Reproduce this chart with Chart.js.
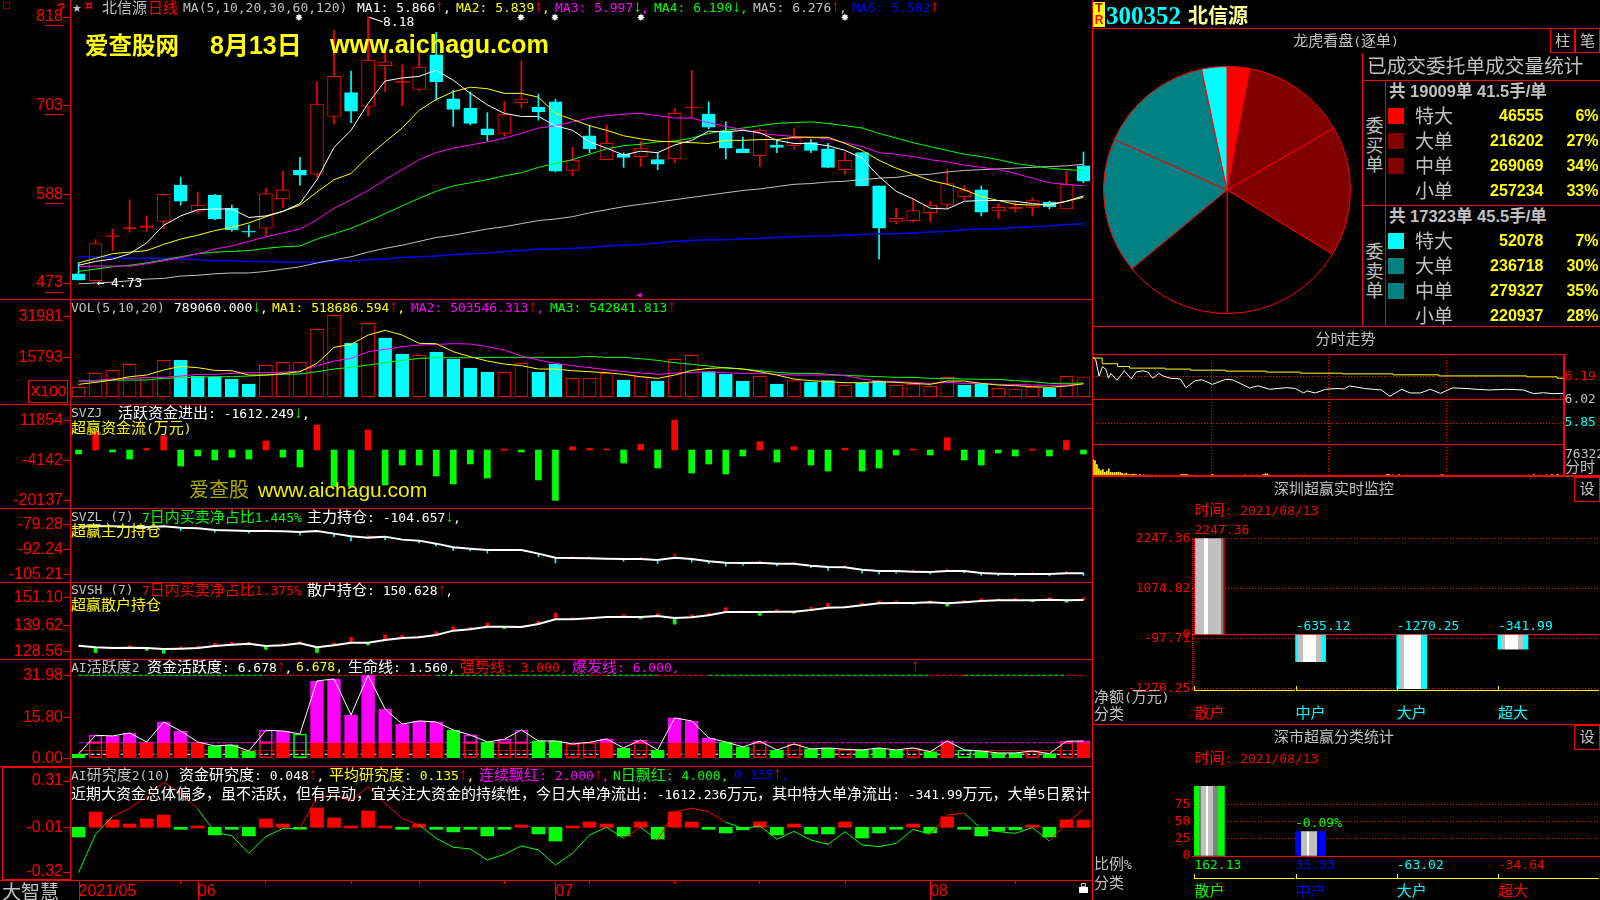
<!DOCTYPE html>
<html>
<head>
<meta charset="utf-8">
<title>300352 北信源</title>
<script src="https://cdn.jsdelivr.net/npm/chart.js@4/dist/chart.umd.min.js"></script>
<style>
html, body { margin: 0; padding: 0; width: 1600px; height: 900px; background: #000; overflow: hidden; }
canvas { position: absolute; display: block; }
.t { position: absolute; white-space: pre; font: 13px/16px "DejaVu Sans Mono", "Noto Sans CJK SC", monospace; }
.t .c { font: 15px/16px "Noto Sans CJK SC", sans-serif; }
.t .a { display: inline-block; width: 7.8px; text-align: center; font: 17px/14px "Liberation Sans", sans-serif; }
.l { position: absolute; }
</style>
</head>
<body>
<script>
// 日线数据 (60 bars)
const candleOpen = [4.85,4.76,5.33,5.43,5.45,5.53,6.00,5.66,5.87,5.70,5.40,5.44,5.82,6.19,6.14,6.89,7.20,7.02,7.55,7.33,7.24,7.69,7.12,7.00,6.73,6.67,7.07,7.01,7.08,6.19,6.64,6.33,6.40,6.37,6.33,6.34,7.00,6.92,6.70,6.47,6.38,6.52,6.51,6.55,6.47,6.20,6.42,5.99,5.53,5.54,5.64,5.75,5.85,5.94,5.67,5.69,5.71,5.78,5.69,6.25];
const candleClose = [4.77,5.24,5.34,5.45,5.47,5.88,5.79,5.74,5.56,5.42,5.39,5.89,5.94,6.13,7.05,7.41,6.96,7.62,7.60,7.35,7.53,7.34,6.98,6.80,6.65,6.92,7.11,6.95,6.18,6.32,6.47,6.54,6.36,6.48,6.27,6.93,7.01,6.75,6.48,6.42,6.71,6.49,6.61,6.45,6.23,6.32,5.99,5.44,5.57,5.67,5.74,6.02,5.93,5.65,5.71,5.71,5.80,5.72,6.01,6.05];
const candleHigh = [4.99,5.29,5.43,5.81,5.60,5.88,6.10,5.91,5.88,5.74,5.48,5.96,6.18,6.36,7.34,8.01,7.48,8.18,7.75,7.56,7.75,7.98,7.23,7.21,6.94,7.08,7.61,7.18,7.11,6.49,6.77,6.78,6.42,6.57,6.42,6.99,7.49,7.08,6.82,6.62,6.73,6.58,6.74,6.59,6.54,6.42,6.42,5.99,5.70,5.82,5.79,6.20,5.99,5.99,5.76,5.79,5.83,5.79,6.18,6.43];
const candleLow = [4.77,4.76,5.15,5.39,5.40,5.43,5.74,5.63,5.55,5.40,5.33,5.34,5.71,6.00,6.11,6.79,6.81,6.90,7.21,7.03,7.22,7.10,6.76,6.78,6.57,6.64,7.00,6.84,6.17,6.12,6.42,6.33,6.23,6.24,6.20,6.29,6.87,6.73,6.34,6.42,6.24,6.42,6.47,6.42,6.23,6.14,5.99,5.04,5.50,5.52,5.52,5.69,5.81,5.60,5.57,5.65,5.61,5.69,5.69,6.03];
const ma5 = [4.96,5.01,5.04,5.11,5.25,5.48,5.60,5.68,5.69,5.69,5.58,5.60,5.66,5.76,6.07,6.49,6.71,7.06,7.35,7.39,7.41,7.49,7.36,7.19,7.04,6.93,6.89,6.89,6.77,6.71,6.56,6.48,6.39,6.44,6.42,6.52,6.58,6.70,6.69,6.71,6.68,6.58,6.54,6.54,6.51,6.45,6.35,6.11,5.92,5.82,5.70,5.69,5.79,5.80,5.80,5.79,5.76,5.74,5.79,5.86];
const ma10 = [4.99,5.05,5.11,5.13,5.15,5.23,5.30,5.35,5.41,5.45,5.51,5.59,5.66,5.74,5.91,6.07,6.15,6.37,6.56,6.74,6.97,7.11,7.21,7.27,7.25,7.19,7.19,7.14,6.93,6.85,6.77,6.71,6.64,6.60,6.57,6.56,6.55,6.54,6.58,6.58,6.59,6.59,6.62,6.62,6.62,6.54,6.45,6.32,6.22,6.14,6.06,6.01,5.94,5.85,5.80,5.75,5.74,5.75,5.79,5.84];
const ma20 = [4.94,4.95,4.95,4.95,4.98,5.02,5.06,5.11,5.17,5.21,5.27,5.33,5.38,5.43,5.55,5.70,5.81,5.93,6.07,6.20,6.33,6.42,6.48,6.52,6.56,6.61,6.67,6.74,6.77,6.82,6.87,6.90,6.92,6.93,6.90,6.87,6.87,6.81,6.76,6.72,6.67,6.65,6.63,6.62,6.60,6.55,6.50,6.42,6.40,6.37,6.33,6.30,6.26,6.23,6.20,6.15,6.09,6.03,6.01,5.99];
const ma30 = [4.88,4.91,4.94,4.96,4.99,5.03,5.07,5.11,5.13,5.14,5.15,5.18,5.20,5.21,5.30,5.37,5.44,5.53,5.63,5.73,5.83,5.92,5.99,6.03,6.07,6.12,6.16,6.23,6.28,6.33,6.40,6.47,6.51,6.53,6.56,6.57,6.61,6.67,6.71,6.74,6.77,6.80,6.81,6.82,6.80,6.77,6.74,6.67,6.61,6.55,6.50,6.45,6.40,6.37,6.33,6.28,6.25,6.22,6.20,6.19];
const ma60 = [4.72,4.73,4.74,4.76,4.78,4.79,4.82,4.83,4.85,4.86,4.86,4.88,4.91,4.94,4.99,5.03,5.07,5.13,5.18,5.22,5.27,5.32,5.35,5.39,5.43,5.46,5.50,5.54,5.56,5.59,5.64,5.68,5.72,5.75,5.78,5.81,5.84,5.87,5.90,5.93,5.95,5.98,6.01,6.02,6.04,6.05,6.07,6.09,6.10,6.13,6.14,6.17,6.19,6.20,6.21,6.22,6.23,6.24,6.25,6.27];
const ma120 = [5.07,5.07,5.06,5.05,5.05,5.05,5.04,5.03,5.02,5.02,5.01,5.01,5.00,5.00,5.00,5.02,5.02,5.03,5.04,5.06,5.07,5.08,5.10,5.11,5.12,5.14,5.15,5.17,5.17,5.18,5.19,5.21,5.22,5.23,5.25,5.27,5.28,5.29,5.29,5.30,5.31,5.32,5.33,5.34,5.34,5.35,5.36,5.37,5.37,5.38,5.39,5.40,5.42,5.43,5.43,5.45,5.46,5.47,5.49,5.50];
const priceTicks = [8.18, 7.03, 5.88, 4.73];

const volume = [3724,9310,10507,12901,7714,14497,14497,8246,7714,7049,5054,12502,13699,13699,26866,32452,21413,29260,23408,17024,16492,17822,15029,11438,9842,9709,13300,9842,13034,7315,7315,9310,6650,7980,6251,14896,16492,9975,9044,6251,8113,5054,6384,5852,6384,4522,5453,6251,4522,4921,4123,7714,4655,5054,3325,3059,3724,3458,8113,7891];
const volRed = [1,1,1,1,1,1,0,0,0,0,0,1,1,1,1,1,0,1,0,0,1,0,0,0,0,1,1,0,0,1,1,1,0,1,0,1,1,0,0,0,1,0,1,0,0,1,0,0,1,1,1,1,0,0,1,1,1,0,1,1];
const volMa5 = [4921,5719,6650,7980,8645,10640,12103,11571,10507,10374,8645,8645,9177,9975,13300,19684,20881,24605,26467,24605,21280,21147,17955,15960,14231,13034,12369,11039,11039,10374,9975,9576,8911,7980,7315,8645,10507,11305,11571,11039,9975,8645,7049,6384,5985,5586,5586,5985,5719,5320,4921,6251,6251,5320,4655,4389,3990,3724,4256,5187];
const volMa10 = [6251,6517,7049,7315,7581,7714,8246,8911,8911,9310,9576,9576,9709,10241,12369,14231,15295,17955,18886,19950,20615,20881,21147,21014,19950,18620,16226,14630,13300,12369,11571,10773,9975,9443,8911,9443,9709,9975,9576,9310,9310,8911,8645,8645,8645,8379,7049,6251,5985,5719,5320,5719,5320,5320,4921,4921,4655,4522,4655,5054];
const volMa20 = [6251,6251,6650,6650,6650,7315,7581,7847,7980,7980,8246,8645,8911,9044,9975,11039,11704,12635,13566,14497,15295,15561,15561,15561,15694,15694,15694,15694,15694,15694,16093,15694,15694,15162,14497,13566,12901,12236,11438,11039,10374,9709,9310,9310,8911,8512,8246,7980,7714,7714,7315,7315,7049,6916,6916,6384,5985,5320,5320,5453];
const volTicks = [31981, 15793];

const svzj = [-1600,7200,-800,-3600,600,5600,-6400,-2400,-4000,-2900,-3600,3600,-2800,-6800,10000,-14600,-14600,8000,-14000,-6000,-6000,-10400,-13600,-5600,-11200,200,-800,-12000,-20137,1300,600,200,-5200,2300,-7200,12000,-9200,-5600,-9600,-2400,3300,-4800,1300,-6000,-8400,700,-8400,-7200,-2000,200,-2000,4900,-4000,-6000,-1200,-2400,200,-2400,3800,-1612];
const svzjTicks = [11854, -4142, -20137];

const svzl = [-80.49,-80.14,-80.32,-80.49,-80.66,-80.32,-81.01,-81.35,-82.22,-82.56,-82.74,-82.74,-82.91,-83.26,-82.74,-84.12,-85.50,-86.19,-85.68,-87.23,-87.75,-89.31,-91.21,-91.90,-92.59,-92.59,-92.59,-94.49,-96.57,-96.74,-96.91,-97.09,-97.26,-97.26,-97.78,-96.57,-97.26,-98.47,-99.16,-99.33,-99.16,-99.68,-99.68,-100.72,-101.41,-101.58,-102.79,-103.48,-103.48,-103.83,-104.00,-103.48,-103.48,-104.52,-104.87,-105.04,-105.04,-105.04,-104.69,-104.66];
const svzlChange = [0,0,0,0,0,.8,-1.6,0,-1.2,0,-1.2,.8,0,-1.6,0,-1.6,-2.4,1.2,-1.6,0,-1.2,-1.2,-1.6,-1.2,-1.6,.5,0,-1.6,-2.8,.8,.8,0,-1.2,.8,-1.8,2,-1.6,-1.2,-1.8,-1.2,1,-1.2,1,-1,-1.8,1,-1.8,-1.6,-1.2,1,-1,1,-1,-1.2,-1,-1,1,-1,1,-1.2];
const svzlTicks = [-79.28, -92.24, -105.21];

const svsh = [130.96,130.25,129.97,130.11,129.97,129.55,129.69,129.97,130.81,131.38,131.80,130.81,131.10,131.94,130.25,131.10,132.22,132.22,133.35,134.20,134.48,135.46,137.30,137.86,138.99,138.99,138.85,140.11,142.09,142.09,142.51,143.07,143.07,143.07,143.50,142.65,142.93,143.78,145.19,145.19,145.19,145.33,145.33,146.03,147.02,147.16,148.00,148.85,148.99,148.99,149.27,148.85,149.27,149.84,150.12,150.12,150.12,150.40,150.12,150.26];
const svshChange = [0,-2.2,.4,.8,-1,-1.8,.8,.8,1.2,1,.6,-1.4,.7,.7,-2.2,1,2.2,-1,2.2,1.2,.6,1.4,1.6,.8,1.6,-.8,.4,1.2,2.6,.6,.4,0,1,-.8,1,-2.6,1,1,1.8,.4,-1.4,.8,-.6,1.2,1.8,.4,1,1,.8,-.5,.6,-1.2,.8,1,.6,.8,-.6,.8,-.8,.8];
const svshTicks = [151.10, 139.62, 128.56];

const activity = [1.67,8.86,8.60,9.76,6.29,14.00,10.53,6.29,4.75,5.14,2.82,10.79,10.53,9.37,29.79,30.56,16.69,31.98,19.00,13.20,14.38,14.00,10.90,8.99,6.29,7.32,10.90,6.68,6.68,5.52,6.16,7.45,3.98,7.06,3.21,15.54,14.38,7.83,6.29,4.37,6.55,3.21,5.52,3.60,3.98,3.47,3.21,3.98,3.21,3.98,2.57,6.68,3.21,2.82,2.05,2.05,2.82,1.80,6.55,6.68];
// g 绿实心, f 红+紫实心, h 红+紫空心, o 绿空心
const activityKind = ['g','h','f','f','f','f','f','f','g','g','g','h','f','o','f','f','f','f','f','f','f','f','g','h','g','h','h','g','g','h','h','f','g','h','g','f','f','f','g','g','h','g','h','g','g','h','g','g','g','h','g','f','o','g','g','g','h','g','h','f'];
const activityTicks = [31.98, 15.80, 0];
const lifeLine = 1.56, strongLine = 3, burstLine = 6, topLine = 31.98;
const topLineRed = [0,0,0,0,0,0,0,0,0,0,0,1,1,1,1,1,1,1,1,1,1,0,0,0,0,0,0,0,0,0,1,0,0,0,1,1,1,0,0,0,0,0,0,0,0,0,0,0,0,0,1,1,0,0,0,0,0,0,1,1];

const research = [-.077,.096,.041,.013,.048,.075,-.015,-.001,-.063,-.022,-.07,.048,.013,-.022,.124,.055,-.001,.103,-.001,-.022,.013,-.022,-.042,-.015,-.07,-.015,.006,-.056,-.105,-.001,.027,.013,-.07,.027,-.091,.096,.027,-.015,-.049,-.028,.027,-.063,.013,-.056,-.056,.027,-.084,-.049,-.022,.013,-.049,.062,-.022,-.07,-.035,-.028,.006,-.077,.041,.041];
const researchAvg = [-.324,-.058,.064,.122,.202,.302,.225,.117,-.045,-.068,-.19,-.075,-.017,-.017,.198,.207,.175,.272,.156,.052,.006,-.086,-.148,-.16,-.236,-.197,-.139,-.167,-.271,-.19,-.063,-.01,-.086,-.01,-.098,.098,.122,.098,.025,-.017,-.001,-.093,-.038,-.098,-.128,-.04,-.132,-.144,-.121,-.024,-.058,.075,.089,-.024,-.04,-.052,-.012,-.105,.018,.115];
const researchAvgRed = [0,0,1,1,1,1,1,0,0,0,0,0,0,1,1,1,1,1,1,1,0,0,0,0,0,0,0,0,0,0,0,0,1,0,1,1,1,1,0,0,0,0,0,0,0,0,0,0,0,0,1,1,0,0,0,0,0,1,1,1];
const researchBase = -0.01;
const researchTicks = [.31, -.01, -.32];

const monthLabels = { 0: '2021/05', 7: '06', 28: '07', 50: '08' };
const weekTicks = [6, 11, 16, 20, 25, 30, 35, 40, 45, 55];
const barLabels = candleOpen.map((_, i) => monthLabels[i] || '');

// 右侧：龙虎看盘
const orderNames = ['特大', '大单', '中单', '小单'];
const buyVol = [46555, 216202, 269069, 257234];
const buyPct = ['6%', '27%', '34%', '33%'];
const sellVol = [52078, 236718, 279327, 220937];
const sellPct = ['7%', '30%', '35%', '28%'];

// 分时走势
const fsMinute = [0,1.4,3.1,4.8,6.6,7.9,9.1,12.2,16,19.5,22,25.5,28,30.5,33.6,36,39.3,44.5,47.4,52.2,55.7,60.9,67.8,71.2,79.8,84.1,90.2,98.8,103.1,107.4,109.1,113.4,118.6,124.7,128.1,130.7,138.4,147.1,151.4,157.4,161.7,166.9,172.1,177.2,183.3,190.2,195.3,202.2,210.9,219.5,224.7,229.8,234.1,240];
const fsPrice = [6.33,6.31,6.19,6.26,6.24,6.175,6.21,6.16,6.23,6.17,6.22,6.23,6.22,6.175,6.21,6.19,6.175,6.17,6.106,6.158,6.163,6.13,6.168,6.163,6.104,6.119,6.094,6.106,6.10,6.067,6.082,6.067,6.094,6.10,6.096,6.119,6.10,6.089,6.042,6.094,6.067,6.067,6.094,6.064,6.104,6.10,6.094,6.089,6.094,6.089,6.062,6.069,6.062,6.064];
const fsAvgMinute = [0,4.7,12.6,18.6,36.7,49.7,67.8,88.4,105.7,127.2,153.1,176.4,221.2,236.7,240];
const fsAvgPrice = [6.323,6.281,6.261,6.249,6.242,6.234,6.227,6.22,6.212,6.207,6.20,6.192,6.185,6.175,6.175];
const fsVolMinute = [0,1,2,3,4,5,6,7,8,9,10,11,12,13,14,15,16,17,18,19,20,21,22,23,24,26,27,28,30,32,34,45,46,47,48,49,50,52,61,77,78,81,84,87,88,89,90,104,106,108,150,151,153,156,160,177,178,179,222,225,228,231,234,236,237];
const fsVol = [39788,37352,27608,17052,12992,15428,8932,11368,17052,8932,8120,8120,8932,9744,8120,6496,4872,7308,3248,3248,4060,4872,3248,2436,3248,2436,2436,2436,2436,2436,2436,4060,3248,4060,3248,2436,2436,2436,4060,2436,2436,2436,2436,3248,5684,4872,2436,2436,2436,2436,4060,3248,2436,3248,2436,2436,3248,2436,2436,3248,2436,2436,3248,2436,4060];
const fsTicks = [6.19, 6.02, 5.85];
const fsMaxVol = 76322;

// 超赢统计
const monitorNames = ['散户', '中户', '大户', '超大'];
const monitorNet = [2247.36, -635.12, -1270.25, -341.99];
const monitorTicks = [2247.36, 1074.82, 0, -97.71, -1270.25];
const shareValues = [162.13, 35.53, -63.02, -34.64];
const shareTicks = [75, 50, 25, 0];

const RED = '#ff0000', CYAN = '#00ffff', GREEN = '#00ff00', YELLOW = '#ffff00', MAGENTA = '#ff00ff', BLUE = '#0000ff', GRAY = '#c0c0c0', WHITE = '#ffffff';
const AXIS_FONT = { family: 'Liberation Sans', size: 16 };
const MONO_FONT = { family: 'DejaVu Sans Mono', size: 13 };

Chart.defaults.animation = false;
Chart.defaults.responsive = false;
Chart.defaults.devicePixelRatio = 1;
Chart.defaults.events = [];
Chart.defaults.plugins.legend.display = false;
Chart.defaults.plugins.tooltip.enabled = false;

// 文字
function T(x, y, text, color, o) {
    o = o || {};
    const d = document.createElement('div');
    d.className = 't';
    d.style.left = x + 'px';
    d.style.top = y + 'px';
    d.style.color = color;
    const shift = o.align === 'right' ? '-100%' : o.align === 'center' ? '-50%' : '0';
    d.style.transform = 'translate(' + shift + ',-50%)';
    if (o.size) {
        d.style.fontSize = o.size + 'px';
        d.style.fontFamily = o.family || '"Liberation Sans","Noto Sans CJK SC",sans-serif';
        d.style.lineHeight = (o.size + 2) + 'px';
        if (o.bold) d.style.fontWeight = 'bold';
        d.textContent = text;
    } else {
        d.innerHTML = text
            .replace(/[\u3000-\u9fff\uff00-\uffef]+/g, '<span class="c">$&</span>')
            .replace(/↑/g, '<span class="a" style="color:#ff0000">↑</span>')
            .replace(/↓/g, '<span class="a" style="color:#00ff00">↓</span>');
    }
    document.body.appendChild(d);
    return d;
}

function box(x, y, w, h, css) {
    const d = document.createElement('div');
    d.className = 'l';
    d.style.cssText += 'left:' + x + 'px;top:' + y + 'px;width:' + w + 'px;height:' + h + 'px;' + (css || '');
    document.body.appendChild(d);
    return d;
}
function H(x1, x2, y, color) { return box(x1, y, x2 - x1, 1, 'background:' + (color || RED)); }
function V(x, y1, y2, color) { return box(x, y1, 1, y2 - y1, 'background:' + (color || RED)); }

function makeCanvas(left, top, width, height) {
    const c = document.createElement('canvas');
    c.width = width;
    c.height = height;
    c.style.left = left + 'px';
    c.style.top = top + 'px';
    document.body.appendChild(c);
    return c;
}

function yAxis(min, max, ticks, format) {
    return {
        min: min,
        max: max,
        afterBuildTicks: s => { s.ticks = ticks.map(v => ({ value: v })); },
        afterFit: s => { s.width = 70; s.paddingTop = 0; s.paddingBottom = 0; },
        border: { color: RED },
        grid: { drawOnChartArea: false, color: RED, tickLength: 7 },
        ticks: { autoSkip: false, color: RED, padding: 0, font: AXIS_FONT, callback: format }
    };
}
const hiddenX = { display: false, offset: true };

function panel(top, height, datasets, y, x) {
    return new Chart(makeCanvas(0, top, 1092, height), {
        type: 'bar',
        data: { labels: barLabels, datasets: datasets },
        options: { layout: { padding: 0 }, scales: { x: x || hiddenX, y: y } }
    });
}
function lineSet(data, color, order, width) {
    return { type: 'line', data: data, borderColor: color, borderWidth: width || 1, pointRadius: 0, tension: 0, order: order || 0 };
}

// 主图 K 线
const isUp = candleOpen.map((o, i) => candleClose[i] >= o);
panel(0, 299, [
    lineSet(ma5, WHITE), lineSet(ma10, YELLOW), lineSet(ma20, MAGENTA),
    lineSet(ma30, GREEN), lineSet(ma60, GRAY), lineSet(ma120, BLUE, 0, 1.5),
    { data: candleOpen.map((o, i) => [o, candleClose[i]]), grouped: false, order: 1, barThickness: 13, borderSkipped: false, borderWidth: 1, minBarLength: 1,
      backgroundColor: isUp.map((u, i) => u ? (Math.abs(candleClose[i] - candleOpen[i]) < .03 ? RED : '#000000') : CYAN),
      borderColor: isUp.map(u => u ? RED : CYAN) },
    { data: candleLow.map((l, i) => [l, candleHigh[i]]), grouped: false, order: 2, barThickness: 1,
      backgroundColor: isUp.map(u => u ? RED : CYAN) }
], yAxis(4.5225, 8.4005, priceTicks, v => Math.round(v * 100)));

// 成交量
panel(299, 105, [
    lineSet(volMa5, YELLOW), lineSet(volMa10, MAGENTA), lineSet(volMa20, GREEN),
    { data: volume, grouped: false, order: 1, barThickness: 13, borderSkipped: false, borderWidth: 1,
      backgroundColor: volRed.map(r => r ? '#000000' : CYAN), borderColor: volRed.map(r => r ? RED : CYAN) }
], yAxis(-2913, 38982, volTicks, v => v));

// SVZJ
panel(404, 104, [
    { data: svzj, order: 1, barThickness: 6, minBarLength: 1, backgroundColor: svzj.map(v => v > 0 ? RED : GREEN) }
], yAxis(-23200, 18400, svzjTicks, v => v));

// SVZL
panel(508, 74, [
    lineSet(svzl, WHITE, 0, 2),
    { data: svzl.map((v, i) => svzlChange[i] ? [v, v + svzlChange[i]] : null), grouped: false, order: 1, barThickness: 1,
      backgroundColor: svzlChange.map(d => d > 0 ? RED : CYAN) }
], yAxis(-109.20, -70.83, svzlTicks, v => v.toFixed(2)));

// SVSH
panel(582, 77, [
    lineSet(svsh, WHITE, 0, 2),
    { data: svsh.map((v, i) => svshChange[i] ? [v, v + svshChange[i]] : null), grouped: false, order: 1, barThickness: 3,
      backgroundColor: svshChange.map(d => d > 0 ? RED : GREEN) }
], yAxis(125.32, 157.86, svshTicks, v => v.toFixed(2)));

// AI活跃度
const dashed = (v, color) => Object.assign(lineSet(barLabels.map(() => v), color, 3), { borderDash: [4, 2] });
const activityHollow = k => k === 'h' || k === 'o';
panel(659, 107, [
    lineSet(activity, WHITE),
    { data: activity.map((v, i) => activityKind[i] === 'g' || activityKind[i] === 'o' ? [0, v] : [0, Math.min(v, burstLine)]),
      grouped: false, order: 1, barThickness: 13, borderSkipped: false, borderWidth: 1,
      backgroundColor: activityKind.map(k => activityHollow(k) ? 'rgba(0,0,0,0)' : k === 'g' ? GREEN : RED),
      borderColor: activityKind.map(k => k === 'g' || k === 'o' ? GREEN : RED) },
    { data: activity.map((v, i) => (activityKind[i] === 'f' || activityKind[i] === 'h') && v > burstLine ? [burstLine, v] : null),
      grouped: false, order: 1, barThickness: 13, borderSkipped: false, borderWidth: 1,
      backgroundColor: activityKind.map(k => k === 'f' ? MAGENTA : 'rgba(0,0,0,0)'), borderColor: MAGENTA },
    dashed(lifeLine, WHITE), dashed(strongLine, RED), dashed(burstLine, MAGENTA),
    Object.assign(dashed(topLine, GREEN), { segment: { borderColor: c => topLineRed[c.p0DataIndex] ? RED : GREEN } })
], yAxis(-2.97, 38.25, activityTicks, v => v.toFixed(2)));

// AI研究度 + 日期轴
panel(766, 134, [
    Object.assign(lineSet(researchAvg, GREEN), { segment: { borderColor: c => researchAvgRed[c.p0DataIndex] ? RED : GREEN } }),
    { data: research.map(v => [researchBase, v]), order: 1, barThickness: 13, minBarLength: 2, borderSkipped: false,
      backgroundColor: research.map(v => v > researchBase ? RED : GREEN) }
], yAxis(-.3749, .4144, researchTicks, v => v.toFixed(2)), {
    offset: true,
    afterFit: s => { s.height = 20; s.paddingLeft = 0; s.paddingRight = 0; },
    border: { color: RED },
    grid: { drawOnChartArea: false, offset: false, tickLength: 4,
        color: c => (weekTicks.includes(c.index) ? RED : 'rgba(0,0,0,0)') },
    ticks: { autoSkip: false, maxRotation: 0, align: 'start', padding: -2, color: RED, font: AXIS_FONT }
});

// 龙虎看盘饼图
new Chart(makeCanvas(1103, 66, 248, 248), {
    type: 'pie',
    data: { labels: orderNames.concat(orderNames.slice().reverse()),
        datasets: [{ data: buyVol.concat(sellVol.slice().reverse()), borderColor: RED, borderWidth: 1,
            backgroundColor: [RED, '#800000', '#800000', '#000000', '#000000', '#008080', '#008080', CYAN] }] },
    options: { layout: { padding: 0 } }
});

// 分时走势
const fsGrid = {
    id: 'fsGrid',
    beforeDatasetsDraw(chart) {
        const { ctx, chartArea: a, scales: s } = chart;
        ctx.save();
        ctx.strokeStyle = RED;
        ctx.lineWidth = 1;
        const line = (x1, y1, x2, y2, dash) => {
            ctx.setLineDash(dash ? [1, 2] : []);
            ctx.beginPath();
            ctx.moveTo(x1, y1);
            ctx.lineTo(x2, y2);
            ctx.stroke();
        };
        [6.19, 5.85].forEach(v => { const y = Math.round(s.y.getPixelForValue(v)) + .5; line(a.left, y, a.right, y, true); });
        let y = Math.round(s.y.getPixelForValue(6.02)) + .5;
        line(a.left, y, a.right, y);
        y = Math.round(s.v.getPixelForValue(fsMaxVol)) + .5;
        line(a.left, y, a.right, y);
        [60, 120, 180].forEach(m => { const x = Math.round(s.x.getPixelForValue(m)) + .5; line(x, a.top, x, a.bottom, true); });
        ctx.restore();
    }
};
new Chart(makeCanvas(1093, 354, 507, 122), {
    type: 'line',
    plugins: [fsGrid],
    data: { datasets: [
        { data: fsMinute.map((m, i) => ({ x: m, y: fsPrice[i] })), borderColor: WHITE, borderWidth: 1, pointRadius: 0, tension: 0, yAxisID: 'y', order: 1 },
        { data: fsAvgMinute.map((m, i) => ({ x: m, y: fsAvgPrice[i] })), borderColor: YELLOW, borderWidth: 1, pointRadius: 0, stepped: true, yAxisID: 'y', order: 0 },
        { type: 'bar', data: fsVolMinute.map((m, i) => ({ x: m, y: fsVol[i] })), backgroundColor: YELLOW, barThickness: 1, yAxisID: 'v', order: 2 }
    ] },
    options: {
        layout: { padding: 0 },
        scales: {
            x: { type: 'linear', min: 0, max: 240, offset: false, display: false },
            v: { display: false, min: 0, max: 295000 },
            y: { position: 'right', min: 5.4584, max: 6.3526,
                afterBuildTicks: s => { s.ticks = fsTicks.map(v => ({ value: v })); },
                afterFit: s => { s.width = 36.4; s.paddingTop = 0; s.paddingBottom = 0; },
                border: { color: RED },
                grid: { display: false, drawTicks: false, tickLength: 0 },
                ticks: { autoSkip: false, padding: 1, font: MONO_FONT,
                    color: c => [RED, GRAY, CYAN][c.index], callback: v => v.toFixed(2) } }
        }
    }
});

// 条纹柱
function stripes(chart, px, w, stops) {
    const g = chart.ctx.createLinearGradient(px - w / 2, 0, px + w / 2, 0);
    let from = 0;
    stops.forEach(s => { g.addColorStop(from, s[1]); g.addColorStop(s[0], s[1]); from = s[0]; });
    return g;
}
const MID = '#808080';
const monitorStripes = [
    [[.02, RED], [.32, GRAY], [.46, WHITE], [.88, GRAY], [.94, MID], [1, RED]],
    [[.09, CYAN], [.24, GRAY], [.68, WHITE], [.85, GRAY], [1, CYAN]],
    [[.09, CYAN], [.24, GRAY], [.82, WHITE], [1, CYAN]],
    [[.1, CYAN], [.24, GRAY], [.66, WHITE], [.83, GRAY], [1, CYAN]]
];
const shareStripes = [
    [[.14, GREEN], [.22, MID], [.4, GRAY], [.46, WHITE], [.63, GRAY], [.78, MID], [1, GREEN]],
    [[.17, BLUE], [.38, GRAY], [.44, WHITE], [.73, GRAY], [1, BLUE]]
];

function sideChart(top, height, pad, values, ticks, yMin, yMax, styles, format) {
    return new Chart(makeCanvas(1092, top, 508, height), {
        type: 'bar',
        data: { datasets: [{
            data: values.map((v, i) => ({ x: i, y: v })),
            barThickness: 30,
            backgroundColor: c => {
                if (c.dataIndex === undefined || !styles[c.dataIndex]) return GRAY;
                const px = c.chart.scales.x.getPixelForValue(c.dataIndex);
                return isFinite(px) ? stripes(c.chart, px, 30, styles[c.dataIndex]) : GRAY;
            }
        }] },
        options: {
            layout: { padding: pad },
            scales: {
                x: { type: 'linear', min: -.168, max: 3.86, offset: false, position: { y: 0 },
                    ticks: { display: false }, grid: { display: false }, border: { color: RED } },
                y: { min: yMin, max: yMax,
                    afterBuildTicks: s => { s.ticks = ticks.map(v => ({ value: v })); },
                    afterFit: s => { s.width = 100.4; s.paddingTop = 0; s.paddingBottom = 0; },
                    border: { display: false, dash: [1, 2] },
                    grid: { color: RED, drawTicks: false },
                    ticks: { autoSkip: false, color: RED, padding: 2, font: MONO_FONT, callback: format } }
            }
        }
    });
}
const monitorChart = sideChart(525, 170, { top: 13, bottom: 5 }, monitorNet, monitorTicks, -1301, 2263, monitorStripes, v => v === 0 ? '0' : v.toFixed(2));
const shareChart = sideChart(776, 124, { top: 10, bottom: 44 }, shareValues, shareTicks, 0, 102, shareStripes, v => v);

// ---- 分隔线 ----
[299, 404, 508, 582, 659, 766, 880].forEach(y => H(0, 1092, y));
V(70, 0, 299); V(1092, 0, 900);
box(2, 767, 67, 111, 'border:1px solid #ff0000');
[0, 7, 28, 50].forEach(i => V(78.5 + 17.03 * i, 880, 900));

// ---- 主图文字 ----
T(2, 5, '□', RED, { size: 9, family: 'DejaVu Sans', bold: true });
T(57, 8, '?', RED, { size: 14, family: 'Liberation Sans', bold: true });
T(72, 8, '★', GRAY, { size: 11, family: 'DejaVu Sans' });
T(85, 5, '¤', RED, { size: 13, family: 'DejaVu Sans', bold: true });
T(102, 8, '北信源', GRAY);
T(148, 8, '日线', RED);
T(183, 8, 'MA(5,10,20,30,60,120)', GRAY);
[[357, 'MA1: 5.866↑,', WHITE], [456, 'MA2: 5.839↑,', YELLOW], [555, 'MA3: 5.997↓,', MAGENTA], [654, 'MA4: 6.190↓,', GREEN], [753, 'MA5: 6.276↑,', GRAY], [852, 'MA6: 5.502↑', BLUE]]
    .forEach(h => T(h[0], 8, h[1], h[2]));
[299, 521, 555, 641, 845].forEach(x => T(x, 18, '✸', WHITE, { size: 10, family: 'DejaVu Sans', align: 'center' }));
[25, 114, 203, 292].forEach(y => H(45, 63, y));
T(85, 45, '爱查股网', YELLOW, { size: 23.5, bold: true, family: '"Noto Sans CJK SC"' });
T(210, 45, '8月13日', YELLOW, { size: 25, bold: true, family: '"Liberation Sans","Noto Sans CJK SC"' });
T(330, 45, 'www.aichagu.com', YELLOW, { size: 25.2, bold: true, family: 'Liberation Sans' });
T(383, 22, '8.18', WHITE);
box(369, 19, 14, 1, 'background:#fff;transform:rotate(18deg)');
T(97, 283, '←', WHITE);
T(111, 283, '4.73', WHITE);
T(639, 295, '◀', MAGENTA, { size: 7, family: 'DejaVu Sans', align: 'center' });

// 成交量
T(71, 308, 'VOL(5,10,20)', GRAY);
T(174, 308, '789060.000↓,', WHITE);
T(272, 308, 'MA1: 518686.594↑,', YELLOW);
T(411, 308, 'MA2: 503546.313↑,', MAGENTA);
T(550, 308, 'MA3: 542841.813↑', GREEN);
box(28, 380, 38, 21, 'border:1px solid #ff0000;background:#000');
T(30, 391, 'X100', RED, { size: 15.5, family: 'Liberation Sans' });

// SVZJ
T(71, 413, 'SVZJ', GRAY);
T(118, 413, '活跃资金进出: -1612.249↓,', WHITE);
T(71, 428, '超赢资金流(万元)', YELLOW);
T(189, 489, '爱查股', '#a8a800', { size: 20, family: '"Noto Sans CJK SC"' });
T(258, 489, 'www.aichagu.com', '#eeee00', { size: 21, family: 'Liberation Sans' });

// SVZL / SVSH
T(71, 517, 'SVZL (7)', GRAY);
T(142, 517, '7日内买卖净占比1.445%', GREEN);
T(307, 517, '主力持仓: -104.657↓,', WHITE);
T(71, 531, '超赢主力持仓', YELLOW);
T(71, 590, 'SVSH (7)', GRAY);
T(142, 590, '7日内买卖净占比1.375%', RED);
T(307, 590, '散户持仓: 150.628↑,', WHITE);
T(71, 605, '超赢散户持仓', YELLOW);

// AI活跃度
T(71, 667, 'AI活跃度2', GRAY);
T(147, 667, '资金活跃度: 6.678↑,', WHITE);
T(296, 667, '6.678,', YELLOW);
T(348, 667, '生命线: 1.560,', WHITE);
T(460, 667, '强势线: 3.000,', RED);
T(572, 667, '爆发线: 6.000,', MAGENTA);
T(911, 667, '↑', RED);

// AI研究度
T(71, 775, 'AI研究度2(10)', GRAY);
T(179, 775, '资金研究度: 0.048↑,', WHITE);
T(329, 775, '平均研究度: 0.135↑,', YELLOW);
T(479, 775, '连续飘红: 2.000↑,', MAGENTA);
T(613, 775, 'N日飘红: 4.000,', GREEN);
T(734, 775, '0.135↑,', BLUE);
T(71, 794, '近期大资金总体偏多，虽不活跃，但有异动，宜关注大资金的持续性，今日大单净流出: -1612.236万元，其中特大单净流出: -341.99万元，大单5日累计', WHITE);
T(2, 890, '大智慧', GRAY, { size: 19, family: '"Noto Sans CJK SC"' });
box(1079, 887, 9, 6, 'background:#fff');
box(1081, 883, 5, 4, 'border:1px solid #c0c0c0;box-sizing:border-box');

// ---- 右侧 ----
H(1092, 1600, 28);
box(1093, 2, 12, 25, 'background:#ffff00');
T(1099, 8, 'T', '#a00000', { size: 12, bold: true, align: 'center' });
T(1099, 20, 'R', RED, { size: 12, bold: true, align: 'center' });
T(1106, 15, '300352', CYAN, { size: 25, bold: true, family: 'Liberation Serif' });
T(1188, 15, '北信源', '#ffff99', { size: 20, bold: true, family: '"Noto Sans CJK SC"' });
T(1346, 41, '龙虎看盘(逐单)', GRAY, { align: 'center' });
box(1550, 28, 25, 25, 'border:1px solid #ff0000;box-sizing:border-box');
box(1575, 28, 25, 25, 'border:1px solid #ff0000;box-sizing:border-box');
T(1562.5, 41, '柱', GRAY, { align: 'center' });
T(1587.5, 41, '笔', GRAY, { align: 'center' });
V(1362, 53, 326); V(1385, 80, 326);
H(1362, 1600, 80); H(1362, 1600, 205); H(1092, 1600, 326);
T(1367, 65, '已成交委托单成交量统计', GRAY, { size: 19.7, family: '"Noto Sans CJK SC"' });
T(1389, 91, '共 19009单 41.5手/单', GRAY, { size: 16.5, bold: true });
T(1389, 216, '共 17323单 45.5手/单', GRAY, { size: 16.5, bold: true });
'委买单'.split('').forEach((ch, i) => T(1374.6, 124 + 19.5 * i, ch, GRAY, { size: 18, align: 'center', family: '"Noto Sans CJK SC"' }));
'委卖单'.split('').forEach((ch, i) => T(1374.6, 250 + 19.5 * i, ch, GRAY, { size: 18, align: 'center', family: '"Noto Sans CJK SC"' }));
const buyRows = [116, 141, 166, 191], sellRows = [241, 266, 291, 316];
const buySwatch = [RED, '#800000', '#800000'], sellSwatch = [CYAN, '#008080', '#008080'];
[[buyRows, buyVol, buyPct, buySwatch], [sellRows, sellVol, sellPct, sellSwatch]].forEach(group => {
    group[0].forEach((y, i) => {
        if (group[3][i]) box(1388, y - 8, 16, 16, 'background:' + group[3][i]);
        T(1415, y - 2, orderNames[i], GRAY, { size: 19, family: '"Noto Sans CJK SC"' });
        T(1543.5, y, String(group[1][i]), YELLOW, { size: 16, bold: true, align: 'right' });
        T(1598.5, y, group[2][i], YELLOW, { size: 16, bold: true, align: 'right' });
    });
});

// 分时
T(1345.5, 339, '分时走势', GRAY, { align: 'center' });
H(1092, 1564, 354); V(1564, 354, 476);
H(1092, 1600, 475); H(1092, 1600, 476);
T(1565, 454, String(fsMaxVol), GRAY);
T(1565, 467, '分时', GRAY);

// 监控
function sideText(chart, nameY, bracketY, names, nameColors) {
    names.forEach((name, i) => {
        const x = 1092 + chart.scales.x.getPixelForValue(i) - 15;
        T(x, nameY, name, nameColors[i]);
        H(x, Math.min(x + 101, 1600), bracketY, YELLOW);
        V(x, bracketY - 4, bracketY, YELLOW);
    });
}
T(1334, 489, '深圳超赢实时监控', GRAY, { align: 'center' });
box(1574, 477, 26, 25, 'border:1px solid #ff0000;box-sizing:border-box');
T(1587, 489, '设', GRAY, { align: 'center' });
T(1194.5, 510, '时间: 2021/08/13', RED);
T(1194.5, 530, '2247.36', RED);
box(1192, 538, 0, 152, 'border-left:1px dotted #ff0000');
sideText(monitorChart, 713, 690, monitorNames, [RED, CYAN, CYAN, CYAN]);
[1, 2, 3].forEach(i => T(1092 + monitorChart.scales.x.getPixelForValue(i) - 15, 626, monitorNet[i].toFixed(2), CYAN));
T(1094, 697, '净额(万元)', GRAY);
T(1094, 714, '分类', GRAY);

H(1092, 1600, 724);
T(1334, 737, '深市超赢分类统计', GRAY, { align: 'center' });
box(1574, 725, 26, 25, 'border:1px solid #ff0000;box-sizing:border-box');
T(1587, 737, '设', GRAY, { align: 'center' });
T(1194.5, 758, '时间: 2021/08/13', RED);
const shareColors = [GREEN, BLUE, CYAN, RED];
sideText(shareChart, 891, 878, monitorNames, shareColors);
shareValues.forEach((v, i) => T(1092 + shareChart.scales.x.getPixelForValue(i) - 15, 865, v.toFixed(2), shareColors[i]));
T(1295, 823, '-0.09%', GREEN);
T(1094, 864, '比例%', GRAY);
T(1094, 883, '分类', GRAY);
</script>
</body>
</html>
